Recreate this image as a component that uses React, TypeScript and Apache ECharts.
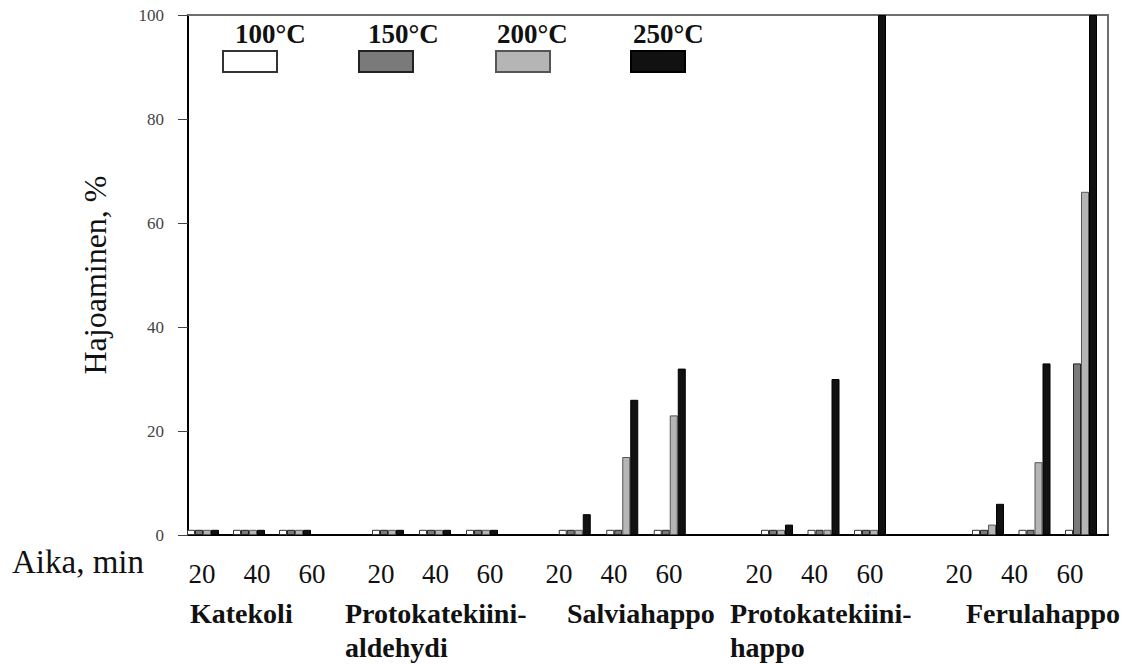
import React, { useEffect, useRef } from "react";
import * as echarts from "echarts";

// ---- data ----
const temps = ["100°C", "150°C", "200°C", "250°C"];
const times = ["20", "40", "60"];
const compounds = [
  "Katekoli",
  "Protokatekiini-\naldehydi",
  "Salviahappo",
  "Protokatekiini-\nhappo",
  "Ferulahappo",
];
// values per temperature, 3 times per compound (15 values, compound order as above)
const t100 = [1, 1, 1, 1, 1, 1, 1, 1, 1, 1, 1, 1, 1, 1, 1];
const t150 = [1, 1, 1, 1, 1, 1, 1, 1, 1, 1, 1, 1, 1, 1, 33];
const t200 = [1, 1, 1, 1, 1, 1, 1, 15, 23, 1, 1, 1, 2, 14, 66];
const t250 = [1, 1, 1, 1, 1, 1, 4, 26, 32, 2, 30, 100, 6, 33, 100];
const yTicks = { min: 0, max: 100, interval: 20 };

// ---- layout / style ----
const serif = "Liberation Serif, Times New Roman, serif";
const barGrids = [
  { left: 180, width: 138 },
  { left: 364.5, width: 141 },
  { left: 551, width: 142.5 },
  { left: 753.75, width: 139.5 },
  { left: 964.75, width: 139.5 },
];
const labelGrids = [
  { left: 174.5, width: 165 },
  { left: 353.75, width: 163.5 },
  { left: 531.5, width: 165 },
  { left: 731.25, width: 166.5 },
  { left: 931.25, width: 166.5 },
];
const nameX = [190, 345, 567, 730, 966];
const legendX = [222, 358, 495, 630];
const legendTextX = [235, 368, 497, 633];
const styles = [
  { color: "#ffffff", borderColor: "#333333", borderWidth: 1 },
  { color: "#7a7a7a", borderColor: "#222222", borderWidth: 1 },
  { color: "#b5b5b5", borderColor: "#555555", borderWidth: 1 },
  { color: "#111111", borderColor: "#000000", borderWidth: 1 },
];
const TOP = 15;
const BOTTOM = 129;
const PLOT_LEFT = 188;
const PLOT_RIGHT = 1108;
const FRAME = "#6e6e6e";

export default function App() {
  const ref = useRef<HTMLDivElement>(null);
  useEffect(() => {
    if (!ref.current) return;
    const chart = echarts.init(ref.current, undefined, { renderer: "svg" });
    const values = [t100, t150, t200, t250];

    const grid: any[] = [
      {
        left: PLOT_LEFT,
        top: TOP,
        width: PLOT_RIGHT - PLOT_LEFT,
        bottom: BOTTOM,
        show: true,
        borderWidth: 2,
        borderColor: FRAME,
      },
    ];
    const xAxis: any[] = [
      {
        gridIndex: 0,
        type: "category",
        data: [""],
        axisLine: { show: true, lineStyle: { color: "#000", width: 2 } },
        axisTick: { show: false },
        axisLabel: { show: false },
        splitLine: { show: false },
      },
      {
        gridIndex: 0,
        type: "category",
        position: "top",
        data: [""],
        axisLine: { show: true, onZero: false, lineStyle: { color: FRAME, width: 2 } },
        axisTick: { show: false },
        axisLabel: { show: false },
        splitLine: { show: false },
      },
    ];
    const yAxis: any[] = [
      {
        gridIndex: 0,
        type: "value",
        min: yTicks.min,
        max: yTicks.max,
        interval: yTicks.interval,
        name: "Hajoaminen, %",
        nameLocation: "middle",
        nameRotate: 90,
        nameGap: 77,
        nameTextStyle: { fontFamily: serif, fontSize: 32, color: "#111" },
        axisLine: { show: true, lineStyle: { color: "#000", width: 2 } },
        axisTick: { show: true, length: 10, lineStyle: { color: "#444" } },
        axisLabel: { fontFamily: serif, fontSize: 17, color: "#444", margin: 24 },
        splitLine: { show: false },
      },
      {
        gridIndex: 0,
        type: "value",
        position: "right",
        min: yTicks.min,
        max: yTicks.max,
        axisLine: { show: true, lineStyle: { color: FRAME, width: 2 } },
        axisTick: { show: false },
        axisLabel: { show: false },
        splitLine: { show: false },
      },
    ];
    const series: any[] = [];

    compounds.forEach((_, ci) => {
      grid.push({ left: barGrids[ci].left, width: barGrids[ci].width, top: TOP, bottom: BOTTOM });
      xAxis.push({
        gridIndex: grid.length - 1,
        type: "category",
        data: times,
        show: false,
      });
      yAxis.push({
        gridIndex: grid.length - 1,
        type: "value",
        min: yTicks.min,
        max: yTicks.max,
        show: false,
      });
      const xi = xAxis.length - 1;
      const yi = yAxis.length - 1;
      temps.forEach((t, ti) => {
        series.push({
          name: t,
          type: "bar",
          xAxisIndex: xi,
          yAxisIndex: yi,
          barWidth: 8,
          barGap: "0%",
          data: values[ti].slice(ci * 3, ci * 3 + 3),
          itemStyle: styles[ti],
        });
      });
    });

    compounds.forEach((_, ci) => {
      grid.push({ left: labelGrids[ci].left, width: labelGrids[ci].width, top: TOP, bottom: BOTTOM });
      xAxis.push({
        gridIndex: grid.length - 1,
        type: "category",
        data: times,
        axisLine: { show: false },
        axisTick: { show: false },
        axisLabel: { fontFamily: serif, fontSize: 27, color: "#111", margin: 25 },
      });
      yAxis.push({
        gridIndex: grid.length - 1,
        type: "value",
        min: yTicks.min,
        max: yTicks.max,
        show: false,
      });
    });

    const plotH = 664 - BOTTOM - TOP;
    const graphic: any[] = [
      {
        type: "group",
        children: [
          {
            type: "rect",
            shape: { x: PLOT_LEFT, y: TOP - 1, width: PLOT_RIGHT - PLOT_LEFT + 1, height: 2 },
            style: { fill: FRAME },
          },
          {
            type: "rect",
            shape: { x: PLOT_RIGHT - 1, y: TOP - 1, width: 2, height: plotH + 1 },
            style: { fill: FRAME },
          },
        ],
      },
    ];
    temps.forEach((t, i) => {
      graphic.push({
        type: "text",
        left: legendTextX[i],
        top: 20,
        style: { text: t, fontFamily: serif, fontSize: 27, fontWeight: "bold", fill: "#111" },
      });
    });
    graphic.push({
      type: "text",
      left: 12,
      top: 545,
      style: { text: "Aika, min", fontFamily: serif, fontSize: 33, fill: "#111" },
    });
    compounds.forEach((c, i) => {
      graphic.push({
        type: "text",
        left: nameX[i],
        top: 596,
        style: {
          text: c,
          fontFamily: serif,
          fontSize: 28,
          fontWeight: "bold",
          lineHeight: 34,
          fill: "#111",
        },
      });
    });

    chart.setOption({
      animation: false,
      backgroundColor: "#ffffff",
      grid,
      xAxis,
      yAxis,
      series,
      legend: temps.map((t, i) => ({
        data: [t],
        left: legendX[i],
        top: 50,
        padding: 0,
        itemWidth: 54,
        itemHeight: 21,
        icon: "rect",
        selectedMode: false,
        formatter: () => "",
        itemStyle: { borderWidth: 2 },
        textStyle: { fontSize: 1 },
      })),
      graphic,
    });
    return () => chart.dispose();
  }, []);
  return (
    <div
      ref={ref}
      style={{ position: "fixed", left: 0, top: 0, width: 1140, height: 664 }}
    />
  );
}
